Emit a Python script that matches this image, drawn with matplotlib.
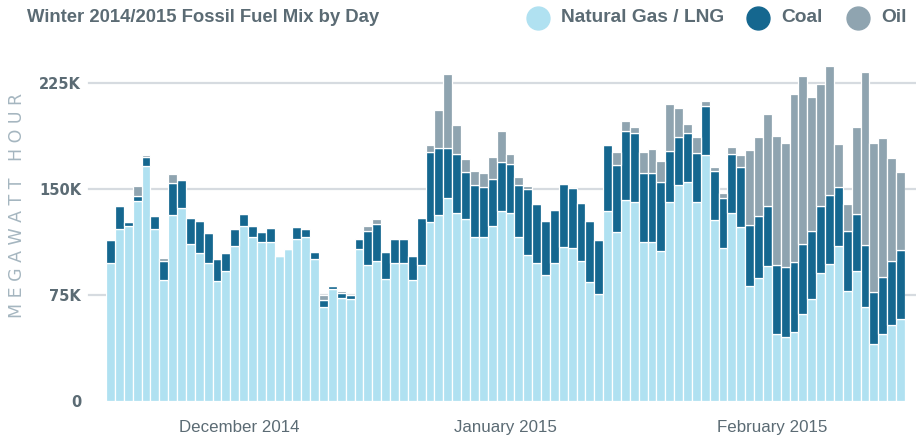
import matplotlib
matplotlib.use("Agg")
import matplotlib.pyplot as plt
import numpy as np
from matplotlib import font_manager
from matplotlib.lines import Line2D

# daily generation, thousands of MWh (Dec 1 2014 .. Feb 28 2015)
gas = [97.4, 121.4, 123.8, 141.3, 166.0, 121.4, 85.4, 131.1, 136.3, 110.6,
       104.2, 97.4, 84.7, 92.0, 109.4, 123.6, 115.8, 112.2, 112.2, 102.6,
       107.1, 114.4, 115.8, 100.0, 66.0, 78.8, 72.9, 71.7, 107.3, 96.0,
       98.8, 86.1, 97.6, 97.6, 85.1, 95.7, 126.4, 131.6, 143.6, 133.0,
       128.5, 115.8, 115.8, 123.3, 134.2, 132.8, 115.8, 102.8, 97.6, 88.7,
       97.6, 108.7, 108.0, 99.0, 83.9, 75.2, 134.4, 119.1, 141.7, 140.8,
       112.5, 112.5, 105.9, 140.8, 152.6, 154.7, 140.8, 174.0, 128.0, 108.0,
       132.8, 123.1, 81.4, 87.0, 95.3, 47.4, 45.0, 48.6, 61.5, 71.7,
       90.1, 96.4, 109.2, 77.8, 91.5, 66.5, 40.1, 47.4, 53.8, 57.5]
coal = [16.3, 16.3, 2.6, 3.7, 6.1, 9.5, 13.2, 22.6, 20.0, 18.6,
        22.9, 21.0, 15.5, 12.7, 12.0, 8.4, 7.5, 6.9, 9.7, 0.0,
        0.0, 8.2, 5.6, 5.2, 5.4, 2.1, 3.0, 2.8, 7.3, 23.8,
        25.9, 19.3, 16.5, 16.5, 17.2, 33.8, 49.3, 47.1, 35.1, 41.7,
        33.0, 37.0, 35.6, 33.5, 34.4, 34.9, 36.5, 46.9, 41.3, 38.6,
        37.5, 44.8, 42.4, 41.1, 43.4, 38.5, 46.2, 47.4, 49.3, 48.8,
        48.8, 48.8, 48.6, 35.8, 34.2, 34.9, 34.6, 34.2, 34.5, 35.6,
        41.5, 42.4, 43.1, 43.9, 42.2, 48.8, 49.3, 49.3, 49.6, 48.6,
        47.6, 49.1, 41.7, 42.2, 40.3, 43.4, 37.0, 40.1, 45.0, 49.1]
oil = [0.0, 0.6, 0.0, 7.1, 1.7, 0.0, 2.3, 6.6, 0.0, 0.0,
       0.0, 0.0, 0.0, 0.0, 0.0, 0.0, 0.0, 0.0, 0.0, 0.0,
       0.0, 0.0, 0.0, 0.0, 3.6, 0.0, 1.9, 0.0, 0.0, 4.0,
       3.8, 0.0, 0.0, 0.0, 0.0, 0.0, 5.2, 26.9, 52.2, 20.3,
       9.2, 9.7, 9.9, 15.3, 22.4, 6.8, 6.2, 2.4, 0.0, 0.0,
       0.0, 0.0, 0.0, 0.0, 0.0, 0.0, 0.0, 9.4, 6.8, 4.2,
       14.8, 16.7, 14.8, 33.0, 20.2, 6.4, 11.1, 3.8, 2.8, 3.5,
       5.1, 8.3, 52.8, 55.6, 65.5, 91.0, 87.7, 119.3, 118.3, 94.3,
       86.1, 91.2, 30.7, 18.9, 62.0, 122.8, 104.9, 98.1, 72.6, 55.4]

y_ticks = [0, 75, 150, 225]
y_labels = ["0", "75K", "150K", "225K"]
month_pos = [14.5, 44.5, 74.5]
month_labels = ["December 2014", "January 2015", "February 2015"]

c_gas = "#b0e1f1"
c_coal = "#15678f"
c_oil = "#8fa4b0"
c_text = "#5b6b74"

names = {f.name for f in font_manager.fontManager.ttflist}
narrow = "Liberation Sans Narrow" if "Liberation Sans Narrow" in names else "Liberation Sans"

fig = plt.figure(figsize=(9.16, 4.38), dpi=100)
ax = fig.add_axes([106 / 916, 37.3 / 438, 799 / 916, 339.2 / 438])

x = np.arange(len(gas))
gas = np.array(gas)
coal = np.array(coal)
oil = np.array(oil)
kw = dict(width=1.0, edgecolor="white", linewidth=0.9, zorder=2)
ax.bar(x, gas, color=c_gas, **kw)
ax.bar(x, coal, bottom=gas, color=c_coal, **kw)
ax.bar(x, oil, bottom=gas + coal, color=c_oil, **kw)

ax.set_xlim(-0.5, len(gas) - 0.5)
ax.set_ylim(0, 240)

# grid lines reaching past the axes like the original
tr = ax.get_yaxis_transform()
for t in y_ticks[1:]:
    ax.plot([-0.0213, 1.0138], [t, t], transform=tr, color="#d6dbe0",
            lw=1.6, clip_on=False, zorder=0)

for s in ax.spines.values():
    s.set_visible(False)
ax.set_yticks(y_ticks)
ax.set_yticklabels(y_labels, fontsize=10.5, fontweight="bold", color=c_text,
                   family="DejaVu Sans")
ax.set_xticks(month_pos)
ax.set_xticklabels(month_labels, fontsize=12.2, color=c_text, family=narrow)
ax.tick_params(axis="y", length=0, pad=18)
ax.tick_params(axis="x", length=0, pad=14)

fig.text(17 / 916, 1 - 205 / 438, "M E G A W A T T   H O U R", rotation=90,
         ha="center", va="center", fontsize=12.5, color="#a5b6c0",
         family="DejaVu Sans")

fig.text(27 / 916, 1 - 18 / 438, "Winter 2014/2015 Fossil Fuel Mix by Day",
         ha="left", va="center", fontsize=13.3, fontweight="bold",
         color=c_text, family=narrow)

legend = [(537.6, c_gas, "Natural Gas / LNG"), (758, c_coal, "Coal"),
          (857.5, c_oil, "Oil")]
for px, col, lab in legend:
    fig.add_artist(Line2D([px / 916], [1 - 18 / 438], marker="o",
                          markersize=16.5, color=col, linestyle="none",
                          transform=fig.transFigure))
    fig.text((px + 23.5) / 916, 1 - 18 / 438, lab, ha="left", va="center",
             fontsize=13.8, fontweight="bold", color=c_text, family=narrow)

fig.savefig("out.png", dpi=100)
